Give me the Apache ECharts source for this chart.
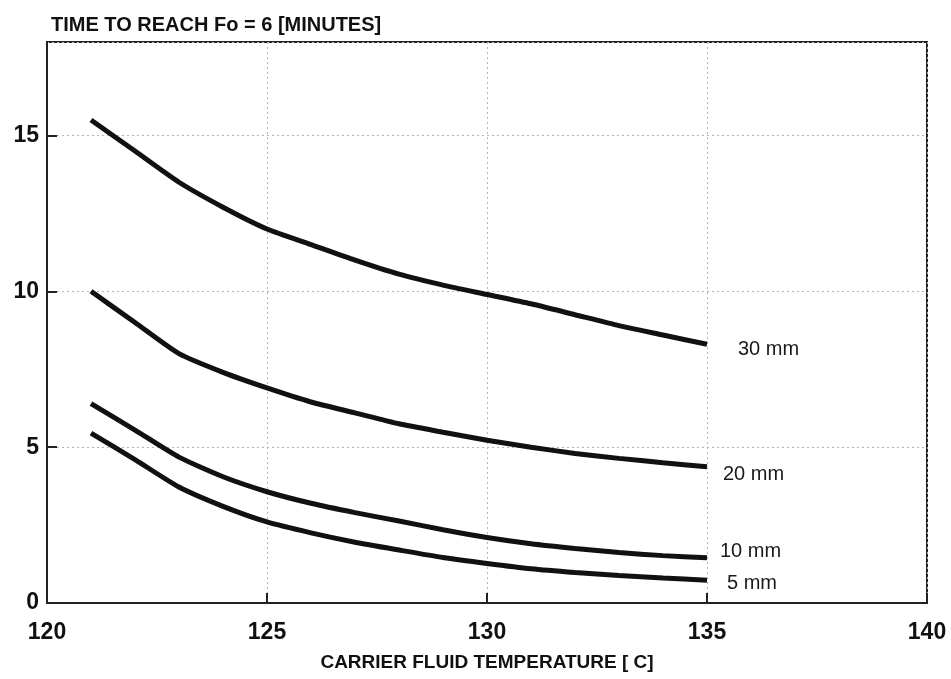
<!DOCTYPE html>
<html>
<head>
<meta charset="utf-8">
<title>Time to reach Fo = 6</title>
<script src="https://cdn.jsdelivr.net/npm/echarts@6/dist/echarts.min.js"></script>
<style>
  html, body { margin: 0; padding: 0; background: #fff; }
  #chart { width: 951px; height: 679px; }
</style>
</head>
<body>
<div id="chart"></div>
<script>
// Carrier fluid temperature (°C)
const temperatures = [121, 122, 123, 124, 125, 126, 127, 128, 129, 130, 131, 132, 133, 134, 135];

// Time to reach Fo = 6 (minutes) per layer thickness
const time30mm = [15.5, 14.5, 13.5, 12.7, 12.0, 11.5, 11.0, 10.55, 10.2, 9.9, 9.6, 9.25, 8.9, 8.6, 8.3];
const time20mm = [10.0, 9.0, 8.0, 7.4, 6.9, 6.45, 6.1, 5.75, 5.48, 5.22, 5.0, 4.8, 4.64, 4.5, 4.37];
const time10mm = [6.4, 5.55, 4.68, 4.05, 3.57, 3.2, 2.9, 2.63, 2.35, 2.1, 1.9, 1.75, 1.62, 1.52, 1.45];
const time5mm  = [5.45, 4.6, 3.72, 3.1, 2.6, 2.25, 1.95, 1.7, 1.46, 1.27, 1.1, 0.98, 0.88, 0.8, 0.73];

const seriesNames = ['30 mm', '20 mm', '10 mm', '5 mm'];
const seriesValues = [time30mm, time20mm, time10mm, time5mm];
// label nudges so each thickness tag sits beside its curve end
const labelOffsets = [[26, 5], [11, 8], [8, -6], [15, 3]];

const xTicks = [120, 125, 130, 135, 140];
const yTicks = [0, 5, 10, 15];

const boldFont = '"Liberation Sans", Arial, Helvetica, sans-serif';

const chart = echarts.init(document.getElementById('chart'), null, { renderer: 'canvas' });

chart.setOption({
  backgroundColor: '#ffffff',
  animation: false,
  title: {
    text: 'TIME TO REACH Fo = 6 [MINUTES]',
    left: 46,
    top: 10,
    textStyle: { fontFamily: boldFont, fontWeight: 'bold', fontSize: 20, color: '#111' }
  },
  grid: {
    left: 47, right: 24, top: 42, bottom: 76,
    show: true, borderColor: '#222', borderWidth: 2, backgroundColor: 'transparent'
  },
  xAxis: {
    type: 'value',
    min: xTicks[0], max: xTicks[xTicks.length - 1], interval: 5,
    name: 'CARRIER FLUID TEMPERATURE [ C]',
    nameLocation: 'middle',
    nameGap: 50,
    nameTextStyle: { fontFamily: boldFont, fontWeight: 'bold', fontSize: 19, color: '#111' },
    axisLine: { show: true, lineStyle: { color: '#222', width: 2 } },
    axisTick: { show: true, inside: true, length: 10, lineStyle: { color: '#222', width: 2 } },
    axisLabel: { margin: 18, fontFamily: boldFont, fontWeight: 'bold', fontSize: 23, color: '#111' },
    splitLine: { show: true, lineStyle: { color: '#b5b5b5', width: 1, type: [2, 3] } }
  },
  yAxis: {
    type: 'value',
    min: 0, max: 18, interval: 5,
    axisLine: { show: true, lineStyle: { color: '#222', width: 2 } },
    axisTick: { show: true, inside: true, length: 10, lineStyle: { color: '#222', width: 2 } },
    axisLabel: {
      margin: 8, fontFamily: boldFont, fontWeight: 'bold', fontSize: 23, color: '#111',
      showMaxLabel: false,
      formatter: v => (yTicks.indexOf(v) >= 0 ? String(v) : '')
    },
    splitLine: { show: true, lineStyle: { color: '#b5b5b5', width: 1, type: [2, 3] } }
  },
  series: seriesNames.map((name, i) => ({
    name: name,
    type: 'line',
    data: temperatures.map((t, j) => [t, seriesValues[i][j]]),
    showSymbol: false,
    smooth: 0.2,
    lineStyle: { color: '#111', width: 5, cap: 'butt' },
    endLabel: {
      show: true,
      formatter: name,
      distance: 5,
      offset: labelOffsets[i],
      fontFamily: '"Liberation Sans", Arial, sans-serif',
      fontSize: 20,
      color: '#1a1a1a'
    },
    z: 3
  }))
});
</script>
</body>
</html>
